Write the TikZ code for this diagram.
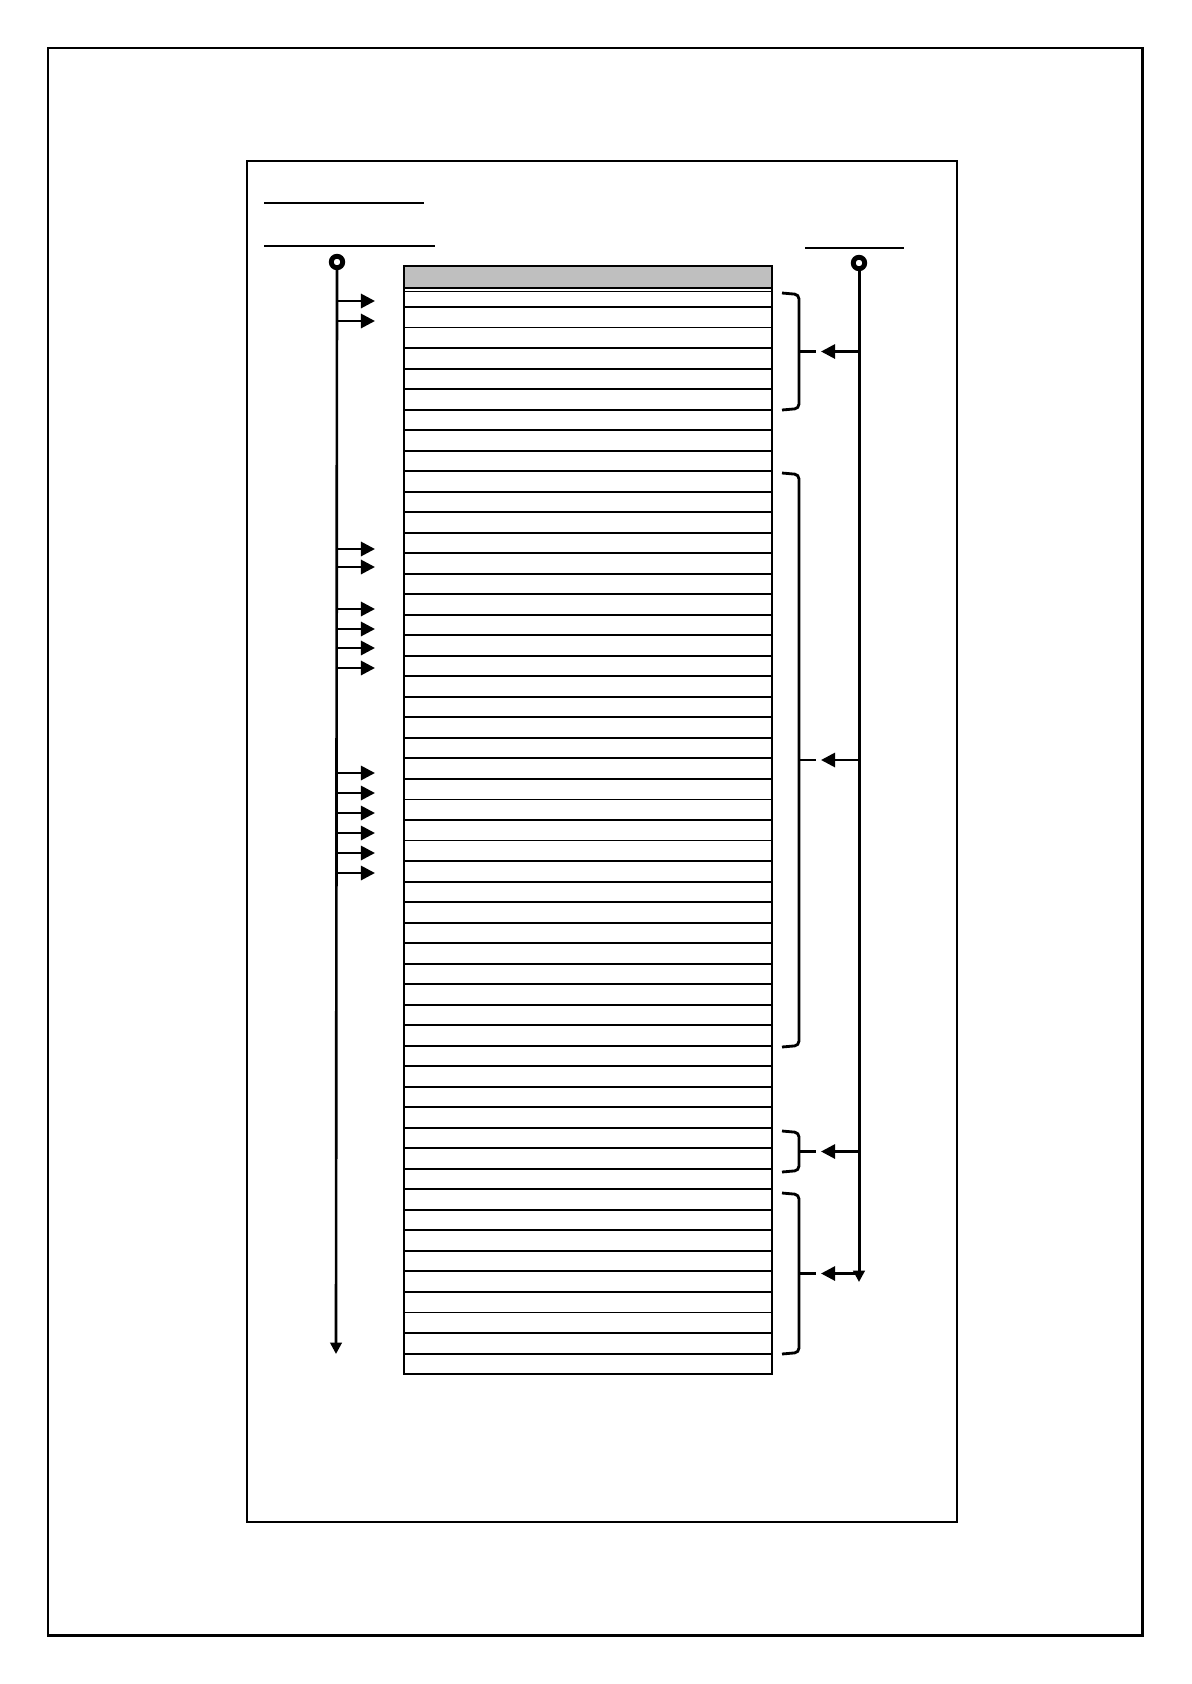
\documentclass[tikz,border=0pt]{standalone}
\usepackage{tikz}
\usetikzlibrary{arrows.meta, positioning, calc}

\tikzset{
    frame/.style={draw, line width=1.7pt},
    rowline/.style={line width=1.1pt},
    feed/.style={-{Triangle[length=8pt,width=8pt]}, line width=1.6pt},
    port/.style={circle, draw, line width=2.8pt, minimum size=6.5pt, inner sep=0pt},
    grpline/.style={line width=1.6pt, rounded corners=2.5pt},
}

\newcommand{\grp}[3]{%
    \draw[grpline] (782,#2) -- (799,{#2+1.5}) -- (799,{#3-1.5}) -- (782,#3);
    \draw[line width=1.6pt] (799,{(#2+#3)/2}) -- (816,{(#2+#3)/2});
    \coordinate (#1) at (821,{(#2+#3)/2});
}

\begin{document}
\begin{tikzpicture}[x=0.02cm, y=-0.02cm]
    \useasboundingbox (0,0) rectangle (1191,1684);
    \draw[frame] (48,48) rectangle (1142,1635);
    \draw[frame, line width=1.5pt] (247,161) rectangle (957,1522);

    \draw[line width=1.6pt] (264,203) -- (424,203);
    \draw[line width=1pt] (264,246) -- (435,246);
    \draw[line width=1.6pt] (805,248) -- (904,248);

    \fill[gray!50] (404,266) rectangle (772,288);
    \draw[rowline] (404,266) rectangle (772,1374);
    \draw[rowline] (404,288) -- (772,288);
    \draw[rowline] (404,291.5) -- (772,291.5);
    \foreach \k in {0,...,51}
        \draw[rowline] (404,{307+20.52*\k}) -- (772,{307+20.52*\k});

    \node[port] (src) at (337,262) {};
    \node[port] (sink) at (859,263) {};

    \coordinate (srcend) at (336,1354);
    \coordinate (sinkend) at (859,1282);
    \draw[feed, line width=1.5pt, -{Triangle[length=6.5pt,width=6.5pt]}] (src) -- (srcend);
    \draw[feed, line width=1.7pt, -{Triangle[length=6.5pt,width=6.5pt]}] (sink) -- (sinkend);

    \foreach \y in {301,321,549,567,609,629,648,668,773,793,813,833,853,873}
        \draw[feed] (336,\y) -- (375,\y);

    \grp{ga}{293}{410}
    \grp{gb}{473}{1047}
    \grp{gc}{1131}{1172}
    \grp{gd}{1193}{1354}

    \foreach \g in {ga,gb,gc,gd}
        \draw[feed] (sink |- \g) -- (\g);
\end{tikzpicture}
\end{document}
